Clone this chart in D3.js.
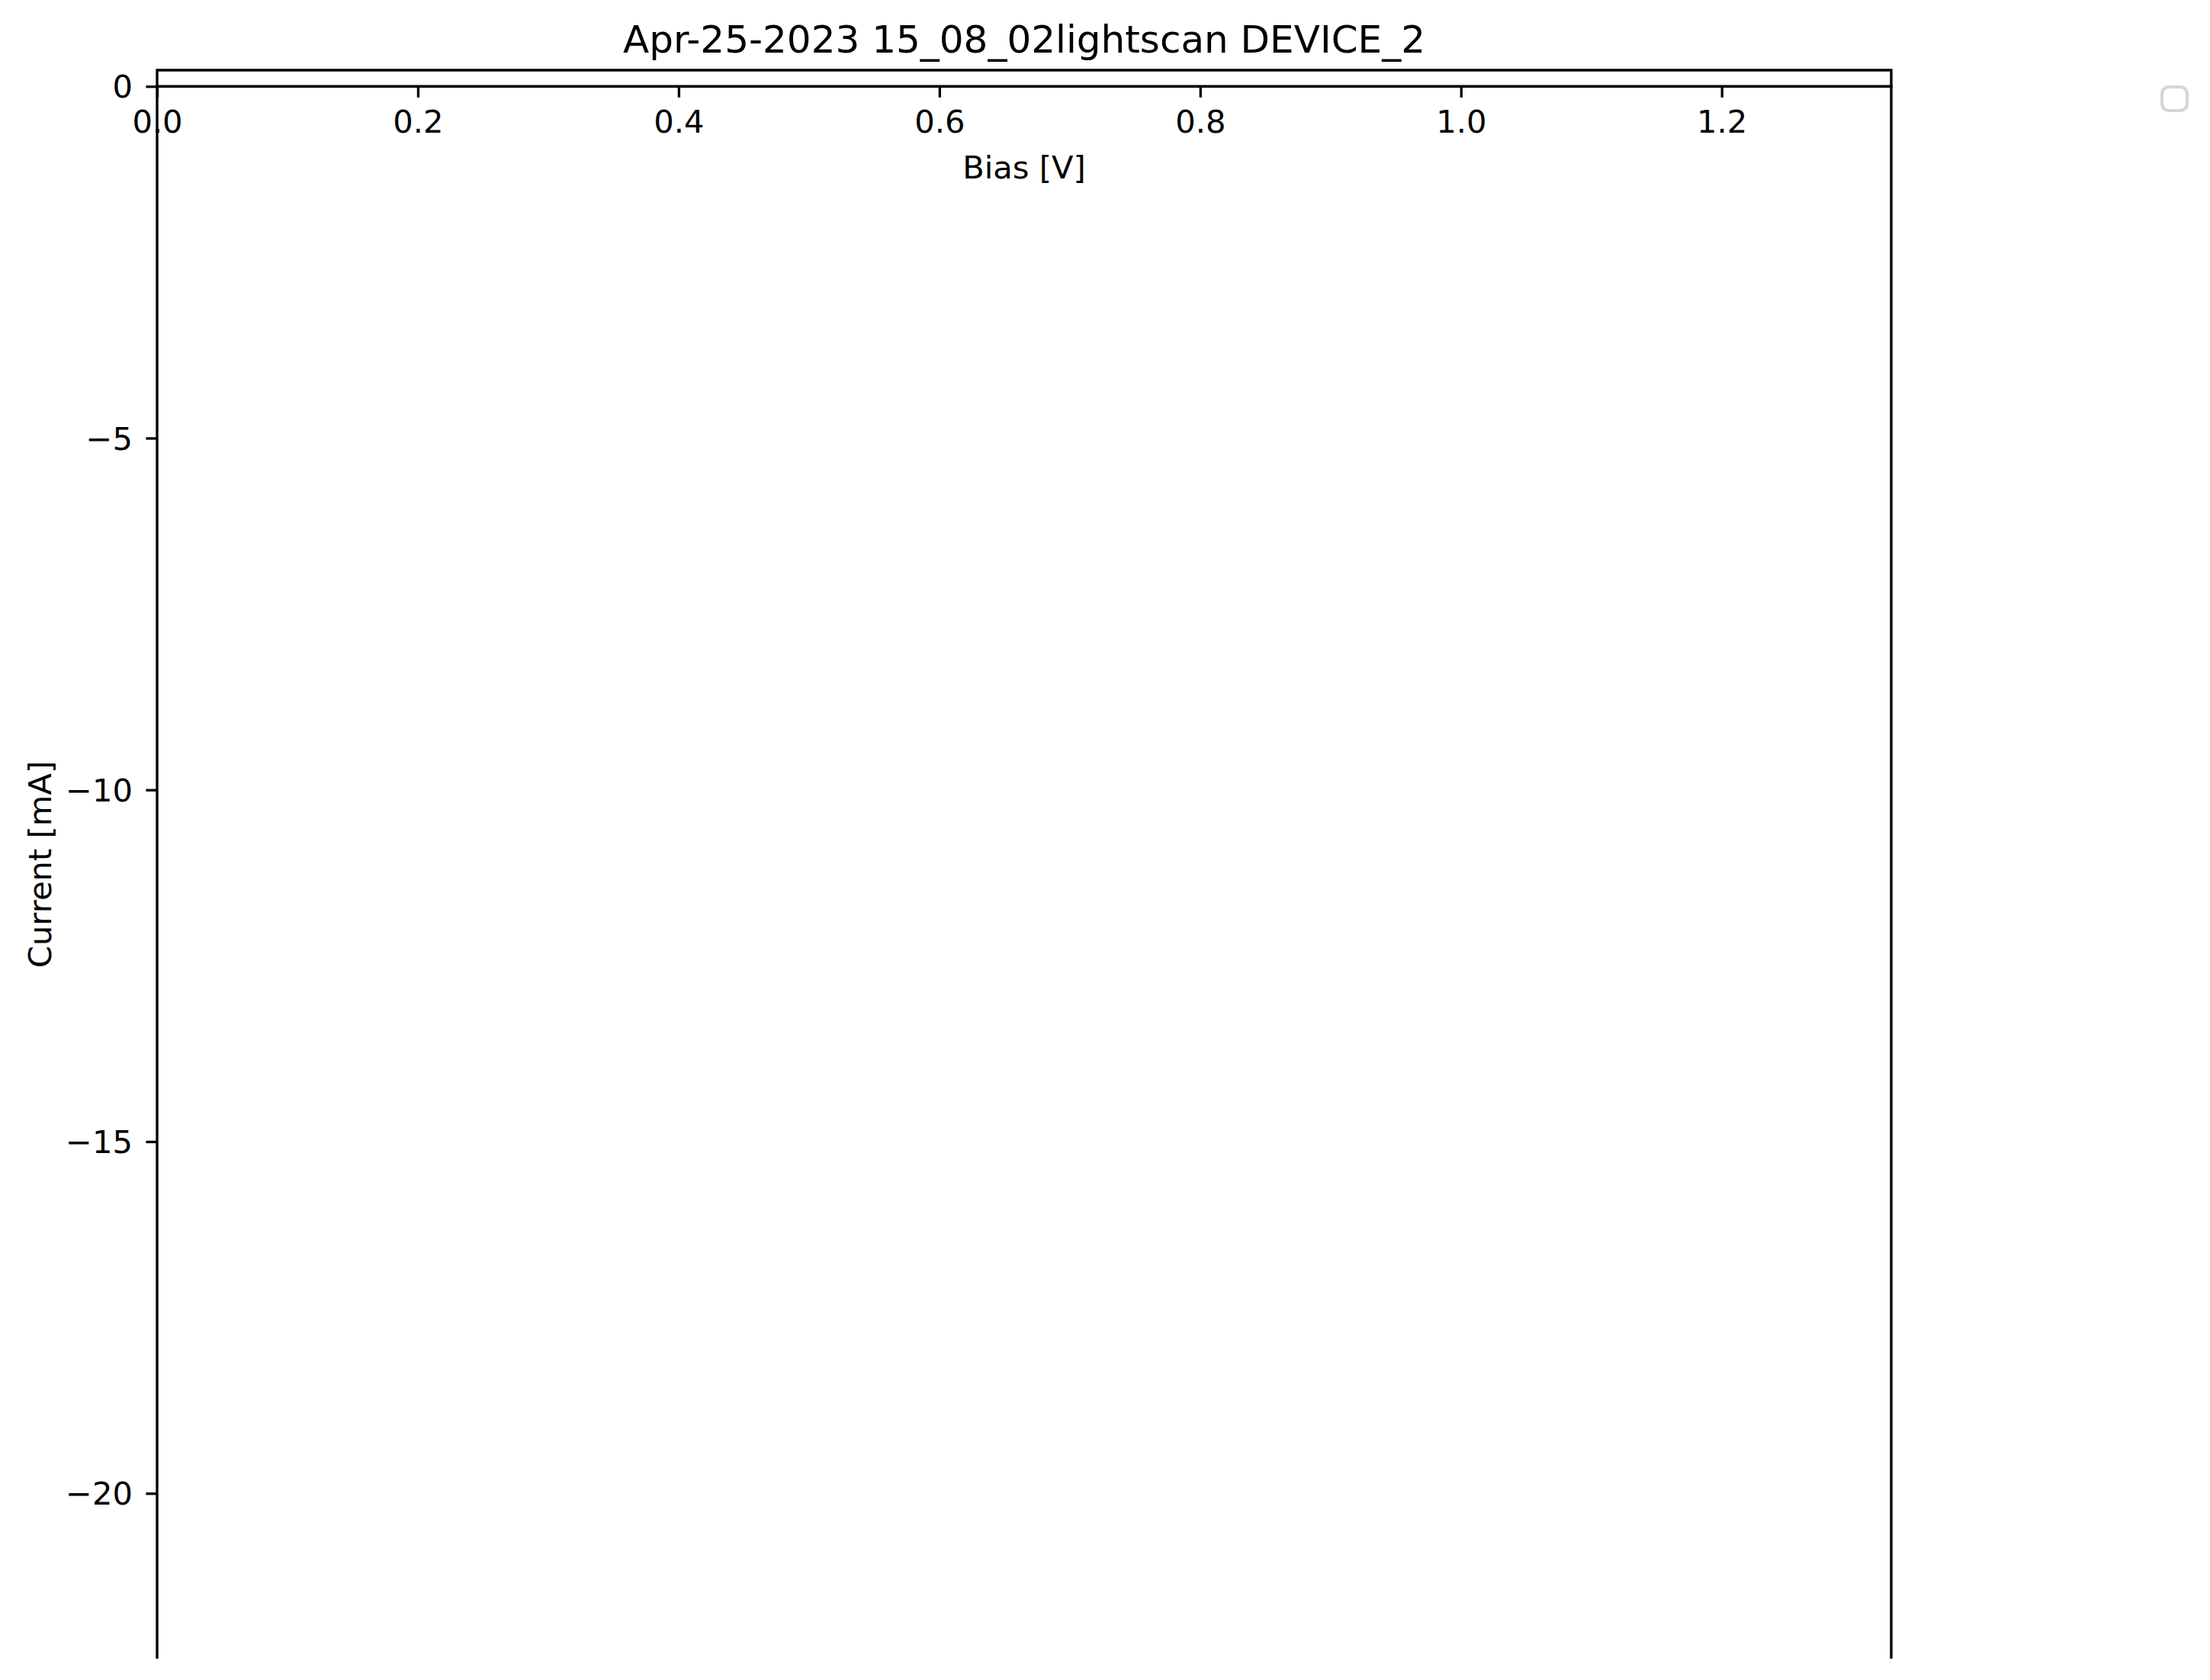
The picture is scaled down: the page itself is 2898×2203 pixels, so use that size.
<!DOCTYPE html>
<html>
<head>
<meta charset="utf-8">
<script src="https://cdn.jsdelivr.net/npm/d3@7"></script>
<style>
  html, body { margin: 0; padding: 0; background: #ffffff; }
  svg { display: block; }
  text { font-family: "DejaVu Sans", sans-serif; fill: #000; }
</style>
</head>
<body>
<script>
// ---- data (the measurement contains no plotted points) ----
const titleText = "Apr-25-2023 15_08_02lightscan DEVICE_2";
const xLabel = "Bias [V]";
const yLabel = "Current [mA]";
const biasV = [];          // x values of the (empty) series
const currentMA = [];      // y values of the (empty) series
const xDomain = [0, 1.33];
const yDomain = [-22.35, 0.23];
const xTicks = [0.0, 0.2, 0.4, 0.6, 0.8, 1.0, 1.2];
const xTickLabels = ["0.0", "0.2", "0.4", "0.6", "0.8", "1.0", "1.2"];
const yTicks = [0, -5, -10, -15, -20];
const yTickLabels = ["0", "\u22125", "\u221210", "\u221215", "\u221220"];

// ---- layout ----
const W = 2898, H = 2203;
const L = 206, R = 2480, T = 92, B = 2175;
const fs = 41.67, lw = 3.33, tickLen = 14.6;

const svg = d3.select("body").append("svg").attr("width", W).attr("height", H);

const x = d3.scaleLinear().domain(xDomain).range([L, R]);
const y = d3.scaleLinear().domain(yDomain).range([B, T]);

// series (empty)
const pts = biasV.map((v, i) => [v, currentMA[i]]);
svg.append("path")
  .datum(pts)
  .attr("fill", "none")
  .attr("stroke", "#1f77b4")
  .attr("stroke-width", 6)
  .attr("d", d3.line().x(d => x(d[0])).y(d => y(d[1])));

// x axis at y = 0
const xAxis = d3.axisBottom(x)
  .tickValues(xTicks)
  .tickFormat((d, i) => xTickLabels[i])
  .tickSizeInner(tickLen).tickSizeOuter(0).tickPadding(17);
const gx = svg.append("g").attr("transform", `translate(0,${y(0)})`).call(xAxis);
gx.select(".domain").remove();
gx.selectAll(".tick line").attr("stroke", "#000").attr("stroke-width", lw);
gx.selectAll(".tick text").attr("font-size", fs).attr("font-family", "DejaVu Sans").attr("fill", "#000");

// y axis
const yAxis = d3.axisLeft(y)
  .tickValues(yTicks)
  .tickFormat((d, i) => yTickLabels[i])
  .tickSizeInner(tickLen).tickSizeOuter(0).tickPadding(17.4);
const gy = svg.append("g").attr("transform", `translate(${L},0)`).call(yAxis);
gy.select(".domain").remove();
gy.selectAll(".tick line").attr("stroke", "#000").attr("stroke-width", lw);
gy.selectAll(".tick text").attr("font-size", fs).attr("font-family", "DejaVu Sans").attr("fill", "#000").attr("dy", "0.35em");

// spines: left, top, right; bottom spine sits at zero
svg.append("path")
  .attr("d", `M${L},${B}V${T}H${R}V${B}`)
  .attr("fill", "none").attr("stroke", "#000").attr("stroke-width", lw)
  .attr("stroke-linejoin", "miter").attr("stroke-linecap", "butt");
svg.append("line")
  .attr("x1", L).attr("x2", R).attr("y1", y(0)).attr("y2", y(0))
  .attr("stroke", "#000").attr("stroke-width", lw).attr("stroke-linecap", "square");

// title
svg.append("text")
  .attr("x", (L + R) / 2).attr("y", 69)
  .attr("text-anchor", "middle").attr("font-size", 50)
  .text(titleText);

// axis labels
svg.append("text")
  .attr("x", (L + R) / 2).attr("y", 234)
  .attr("text-anchor", "middle").attr("font-size", fs)
  .text(xLabel);
svg.append("text")
  .attr("transform", `translate(66.5,${(T + B) / 2}) rotate(-90)`)
  .attr("text-anchor", "middle").attr("font-size", fs)
  .text(yLabel);

// empty legend frame
svg.append("rect")
  .attr("x", 2835).attr("y", 114).attr("width", 33).attr("height", 31)
  .attr("rx", 9).attr("ry", 9)
  .attr("fill", "#ffffff").attr("stroke", "#d6d6d6").attr("stroke-width", 4.17);
</script>
</body>
</html>
